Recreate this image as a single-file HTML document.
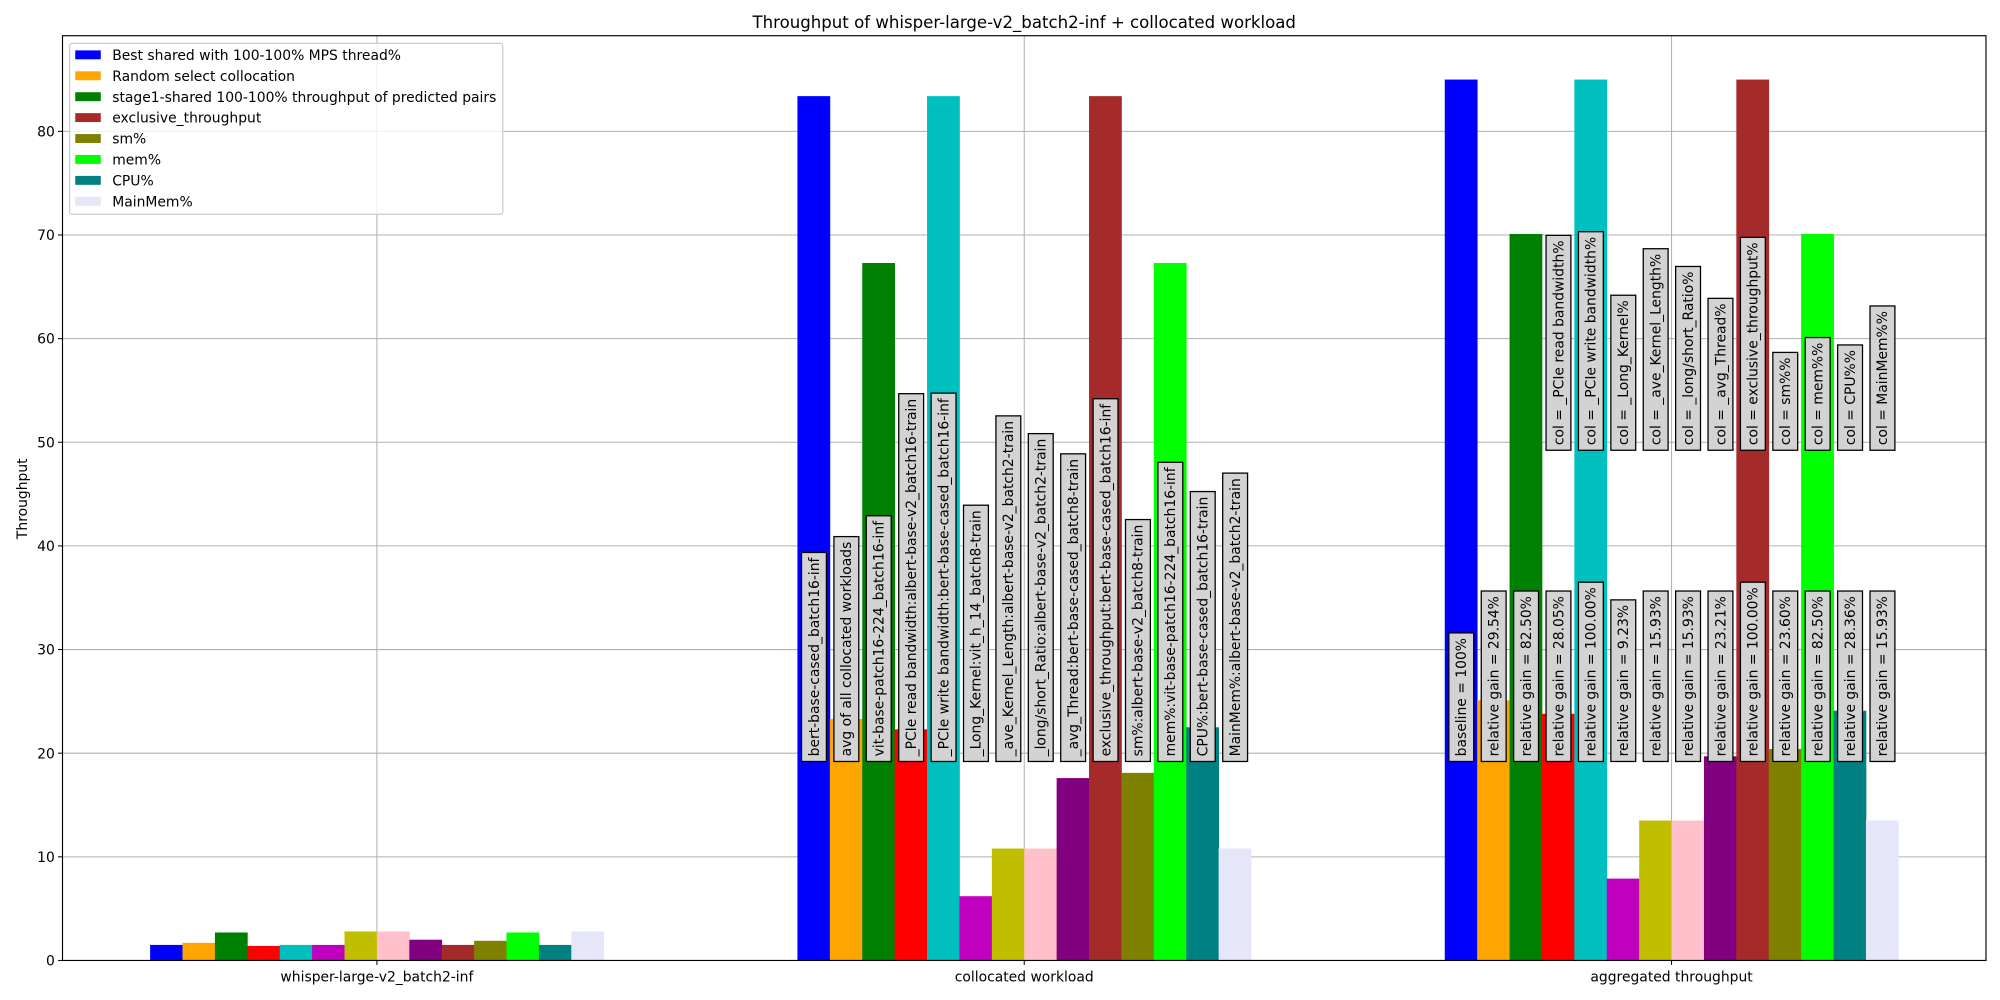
<!DOCTYPE html>
<html><head><meta charset="utf-8">
<style>
html,body{margin:0;padding:0;background:#fff;}
svg{display:block;font-family:"DejaVu Sans","Liberation Sans",sans-serif;}
</style></head>
<body>
<svg id="chart" width="2000" height="1000" viewBox="0 0 1568 784" xmlns="http://www.w3.org/2000/svg">
<text x="803" y="22" font-size="13" text-anchor="middle">Throughput of whisper-large-v2_batch2-inf + collocated workload</text>
<text transform="translate(21,391) rotate(-90)" font-size="10.9" text-anchor="middle">Throughput</text>
<g id="grid"></g>
<g id="bars"></g>
<g id="labels"></g>
<rect x="49" y="28" width="1508" height="725" fill="none" stroke="#000" stroke-width="0.9"/>
<g id="axes"></g>
<g id="legend"></g>
</svg>
<script>
const categories = ["whisper-large-v2_batch2-inf","collocated workload","aggregated throughput"];
const seriesColors = ["#0000ff","#ffa500","#008000","#ff0000","#00bfbf","#bf00bf","#bfbf00","#ffc0cb","#800080","#a52a2a","#808000","#00ff00","#008080","#e6e6fa"];
const sBest = [1.5, 83.4, 85.0];
const sRandom = [1.7, 23.3, 25.1];
const sStage1 = [2.7, 67.3, 70.1];
const sPcieRead = [1.4, 22.3, 23.8];
const sPcieWrite = [1.5, 83.4, 85.0];
const sLongKernel = [1.5, 6.2, 7.9];
const sAveKernel = [2.8, 10.8, 13.5];
const sLongShort = [2.8, 10.8, 13.5];
const sAvgThread = [2.0, 17.6, 19.7];
const sExclusive = [1.5, 83.4, 85.0];
const sSm = [1.9, 18.1, 20.4];
const sMem = [2.7, 67.3, 70.1];
const sCpu = [1.5, 22.5, 24.1];
const sMainMem = [2.8, 10.8, 13.5];
const series = [sBest,sRandom,sStage1,sPcieRead,sPcieWrite,sLongKernel,sAveKernel,sLongShort,sAvgThread,sExclusive,sSm,sMem,sCpu,sMainMem];
const yTicks = [0,10,20,30,40,50,60,70,80];
const legendNames = ["Best shared with 100-100% MPS thread%","Random select collocation","stage1-shared 100-100% throughput of predicted pairs","exclusive_throughput","sm%","mem%","CPU%","MainMem%"];
const legendColors = ["#0000ff","#ffa500","#008000","#a52a2a","#808000","#00ff00","#008080","#e6e6fa"];
const workloadLabels = ["bert-base-cased_batch16-inf","avg of all collocated workloads","vit-base-patch16-224_batch16-inf","_PCIe read bandwidth:albert-base-v2_batch16-train","_PCIe write bandwidth:bert-base-cased_batch16-inf","_Long_Kernel:vit_h_14_batch8-train","_ave_Kernel_Length:albert-base-v2_batch2-train","_long/short_Ratio:albert-base-v2_batch2-train","_avg_Thread:bert-base-cased_batch8-train","exclusive_throughput:bert-base-cased_batch16-inf","sm%:albert-base-v2_batch8-train","mem%:vit-base-patch16-224_batch16-inf","CPU%:bert-base-cased_batch16-train","MainMem%:albert-base-v2_batch2-train"];
const gainLabels = ["baseline = 100%","relative gain = 29.54%","relative gain = 82.50%","relative gain = 28.05%","relative gain = 100.00%","relative gain = 9.23%","relative gain = 15.93%","relative gain = 15.93%","relative gain = 23.21%","relative gain = 100.00%","relative gain = 23.60%","relative gain = 82.50%","relative gain = 28.36%","relative gain = 15.93%"];
const colLabels = ["col = _PCIe read bandwidth%","col = _PCIe write bandwidth%","col = _Long_Kernel%","col = _ave_Kernel_Length%","col = _long/short_Ratio%","col = _avg_Thread%","col = exclusive_throughput%","col = sm%%","col = mem%%","col = CPU%%","col = MainMem%%"];
const colStart = 3;

const NS="http://www.w3.org/2000/svg";
const FS=10.9;
const X0=49, X1=1557, Y0=753, Y1=28;
const y = v => Y0 - v*8.125;
const groupCenter = i => 295.5 + i*507.5;
const barW = 25.4;
const barX = (g,s) => groupCenter(g) - barW*series.length/2 + s*barW;
function mk(tag, attrs, parent){const e=document.createElementNS(NS,tag);for(const k in attrs)e.setAttribute(k,attrs[k]);parent.appendChild(e);return e;}

const grid=document.getElementById('grid'), axes=document.getElementById('axes');
yTicks.forEach(t=>{
  const l=mk('line',{x1:X0,x2:X1,y1:y(t),y2:y(t),stroke:'#b0b0b0','stroke-width':0.8},grid);
  
  
  const tk=mk('line',{x1:X0-3.5,x2:X0,y1:y(t),y2:y(t),stroke:'#000','stroke-width':0.8},axes);
  
  
  const tx=mk('text',{x:X0-6,y:y(t)+4,'font-size':FS,'text-anchor':'end'},axes);
  tx.textContent=t;
  
  
});
categories.forEach((c,i)=>{
  const cx=groupCenter(i);
  const l=mk('line',{x1:cx,x2:cx,y1:Y1,y2:Y0,stroke:'#b0b0b0','stroke-width':0.8},grid);
  
  
  const tk=mk('line',{x1:cx,x2:cx,y1:Y0,y2:Y0+3.5,stroke:'#000','stroke-width':0.8},axes);
  
  
  const tx=mk('text',{x:cx,y:Y0+16.5,'font-size':FS,'text-anchor':'middle'},axes);
  tx.textContent=c;
  
  
});

const bars=document.getElementById('bars');
series.forEach((vals,s)=>{
  vals.forEach((v,g)=>{
    const r=mk('rect',{x:barX(g,s),y:y(v),width:barW+0.3,height:Y0-y(v),fill:seriesColors[s]},bars);
    
    
  });
});

const labels=document.getElementById('labels');
function boxLabel(text, cx, bottom, name){
  const g=mk('g',{},labels);
  
  
  const rect=mk('rect',{fill:'#d3d3d3',stroke:'#000','stroke-width':1},g);
  const t=mk('text',{'font-size':FS,transform:`translate(${cx+4},${bottom-4}) rotate(-90)`},g);
  t.textContent=text;
  const w=t.getComputedTextLength();
  rect.setAttribute('x',cx-9.5);
  rect.setAttribute('y',bottom-w-8);
  rect.setAttribute('width',19.5);
  rect.setAttribute('height',w+8);
}
workloadLabels.forEach((t,i)=>boxLabel(t, barX(1,i)+barW/2, 597, 'workload-annotation'));
gainLabels.forEach((t,i)=>boxLabel(t, barX(2,i)+barW/2, 597, 'gain-annotation'));
colLabels.forEach((t,i)=>boxLabel(t, barX(2,i+colStart)+barW/2, 353, 'col-annotation'));

const leg=document.getElementById('legend');
const lb=mk('rect',{x:54.5,y:34,width:340,height:134,rx:2,fill:'#fff','fill-opacity':0.8,stroke:'#ccc','stroke-width':1},leg);


let maxW=0;
legendNames.forEach((n,i)=>{
  const yy=43+i*16.4;
  const sw=mk('rect',{x:59,y:yy-3.5,width:20,height:7,fill:legendColors[i]},leg);
  
  
  const t=mk('text',{x:88,y:yy+4,'font-size':FS},leg);
  t.textContent=n;
  
  
  maxW=Math.max(maxW,t.getComputedTextLength());
});
lb.setAttribute('width',88+maxW+5-54.5);
</script>
</body></html>
